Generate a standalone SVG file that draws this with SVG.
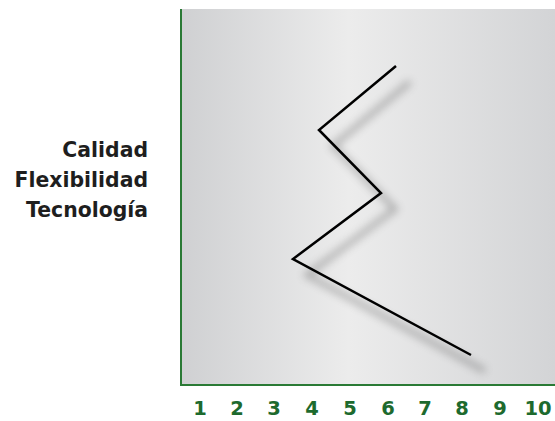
<svg xmlns="http://www.w3.org/2000/svg" width="555" height="421" viewBox="0 0 555 421">
<style>
.lbl{font-family:"DejaVu Sans",sans-serif;font-weight:bold;font-size:20.4px;fill:#1e1e1e;text-anchor:end}
.num{font-family:"DejaVu Sans",sans-serif;font-weight:bold;font-size:19.5px;fill:#1d6a2e;text-anchor:middle}
.axis{stroke:#2a7a35;stroke-width:2;fill:none}
</style>
<defs>
<linearGradient id="bg" x1="0" y1="0" x2="1" y2="0">
<stop offset="0" stop-color="#cfd0d2"/>
<stop offset="0.45" stop-color="#ececec"/>
<stop offset="1" stop-color="#d3d4d6"/>
</linearGradient>
<filter id="blur" x="-20%" y="-20%" width="140%" height="140%">
<feGaussianBlur stdDeviation="4"/>
</filter>
</defs>
<g id="panel">
<rect x="180" y="9" width="375" height="376" fill="url(#bg)"/>
<path class="axis" d="M181,9 V385 H555"/>
</g>
<g id="connectors">
<polyline points="410,82 333,146 395,209 307,275 485,371" fill="none" stroke="#555" stroke-width="5" opacity="0.45" filter="url(#blur)"/>
<polyline points="396,66 319,130 381,193 293,259 471,355" fill="none" stroke="#000" stroke-width="2.5"/>
</g>
<g id="labels">
<text class="lbl" x="148" y="157">Calidad</text>
<text class="lbl" x="148" y="187">Flexibilidad</text>
<text class="lbl" x="148" y="217">Tecnología</text>
</g>
<g id="numbers">
<text class="num" x="200" y="415">1</text>
<text class="num" x="237" y="415">2</text>
<text class="num" x="274" y="415">3</text>
<text class="num" x="312" y="415">4</text>
<text class="num" x="350" y="415">5</text>
<text class="num" x="388" y="415">6</text>
<text class="num" x="425" y="415">7</text>
<text class="num" x="462" y="415">8</text>
<text class="num" x="500" y="415">9</text>
<text class="num" x="538" y="415">10</text>
</g>
</svg>
